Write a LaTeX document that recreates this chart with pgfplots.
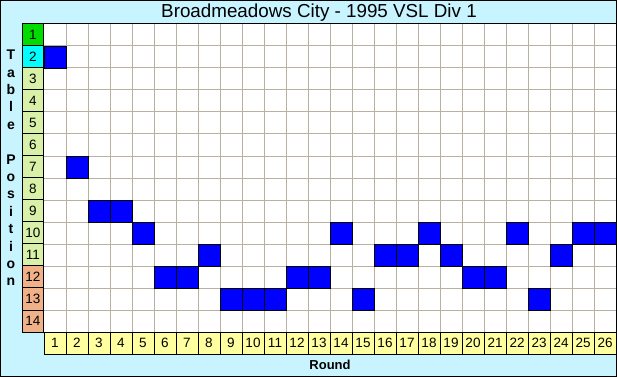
\documentclass[border=0pt]{standalone}
\usepackage{pgfplots}
\pgfplotsset{compat=1.18}
\usepackage{fontspec}
\setmainfont{Liberation Sans}
\definecolor{bgc}{RGB}{200,244,255}
\definecolor{gridc}{RGB}{184,176,160}
\definecolor{cgreen}{RGB}{0,220,0}
\definecolor{ccyan}{RGB}{0,255,255}
\definecolor{cpale}{RGB}{216,240,168}
\definecolor{csalmon}{RGB}{240,176,136}
\definecolor{cyel}{RGB}{255,255,160}
\definecolor{cblue}{RGB}{0,0,255}
\begin{document}
\begin{tikzpicture}
\fill[bgc] (0pt,0pt) rectangle (617pt,377pt);
\useasboundingbox (0pt,0pt) rectangle (617pt,377pt);
% label column boxes
\foreach \k in {1,...,14}{
  \pgfmathsetmacro{\yt}{353-22*(\k-1)}
  \pgfmathsetmacro{\yb}{353-22*\k}
  \ifnum\k=1 \def\cc{cgreen}\else\ifnum\k=2 \def\cc{ccyan}\else\ifnum\k>11 \def\cc{csalmon}\else\def\cc{cpale}\fi\fi\fi
  \filldraw[fill=\cc,draw=black,line width=1pt] (22pt,\yb pt) rectangle (44pt,\yt pt);
}
\foreach \j in {1,...,26}{
  \pgfmathsetmacro{\xl}{44+22*(\j-1)}
  \pgfmathsetmacro{\xr}{44+22*\j}
  \filldraw[fill=cyel,draw=black,line width=1pt] (\xl pt,23pt) rectangle (\xr pt,45pt);
}
\node[font=\fontsize{18.8}{21}\selectfont] at (319pt,364.5pt) {Broadmeadows City - 1995 VSL Div 1};
\node[font=\fontsize{13}{15}\selectfont\bfseries] at (330pt,12pt) {Round};
\node[font=\fontsize{14}{17.4}\selectfont\bfseries, align=center, inner sep=0] at (11pt,209pt) {T\\a\\b\\l\\e\\[17.4pt]P\\o\\s\\i\\t\\i\\o\\n};
\begin{axis}[
  at={(44pt,45pt)}, anchor=south west,
  scale only axis, width=572pt, height=308pt,
  xmin=0.5, xmax=26.5, ymin=0.5, ymax=14.5, y dir=reverse,
  axis background/.style={fill=white},
  xtick={1,...,26}, ytick={1,...,14},
  major tick length=0pt, minor tick length=0pt,
  minor xtick={1.5,2.5,...,25.5}, minor ytick={1.5,2.5,...,13.5},
  xminorgrids, yminorgrids,
  minor grid style={gridc, line width=1pt},
  axis line style={black, line width=1pt},
  tick label style={font=\fontsize{13.5}{15}\selectfont},
  /pgf/number format/assume math mode=true,
  xticklabel style={anchor=center, yshift=-11pt},
  yticklabel style={anchor=center, xshift=-11pt},
]
\addplot[only marks, mark=square*, mark size=11pt, mark options={fill=cblue, draw=none}] coordinates {
(1,2) (2,7) (3,9) (4,9) (5,10) (6,12) (7,12) (8,11) (9,13) (10,13) (11,13) (12,12) (13,12)
(14,10) (15,13) (16,11) (17,11) (18,10) (19,11) (20,12) (21,12) (22,10) (23,13) (24,11) (25,10) (26,10)
};
\end{axis}
\draw[black,line width=1pt] (0.5pt,0.5pt) rectangle (616.5pt,376.5pt);
\end{tikzpicture}
\end{document}
